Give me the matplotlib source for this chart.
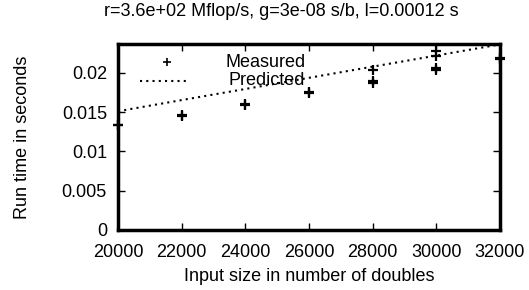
import matplotlib
matplotlib.use("Agg")
import matplotlib.pyplot as plt
from matplotlib.lines import Line2D

plt.rcParams['font.family'] = ['Liberation Sans', 'DejaVu Sans']

# Data
measured_x = [20000, 20000, 22000, 22000, 24000, 24000, 26000, 26000,
              28000, 28000, 28000, 30000, 30000, 30000, 30000, 32000, 32000]
measured_y = [0.0133, 0.0134, 0.0146, 0.0145, 0.0160, 0.0159, 0.0175, 0.0174,
              0.0203, 0.0190, 0.0187, 0.0227, 0.0221, 0.0206, 0.0203, 0.0219, 0.0218]
pred_x = [20000, 22000, 24000, 26000, 28000, 30000, 32000]
pred_y = [0.0151, 0.01652, 0.01793, 0.01935, 0.02077, 0.02218, 0.0236]
xticks = [20000, 22000, 24000, 26000, 28000, 30000, 32000]
yticks = [0, 0.005, 0.01, 0.015, 0.02]
ytick_labels = ['0', '0.005', '0.01', '0.015', '0.02']

fig = plt.figure(figsize=(5.29, 2.90), dpi=100)
ax = fig.add_axes([118/529, 1-230/290, 382/529, 186/290])

ax.plot(measured_x, measured_y, linestyle='none', marker='+', color='black',
        markersize=7, markeredgewidth=1.6, clip_on=False)
ax.plot(pred_x, pred_y, linestyle=(0, (1, 2)), color='black', linewidth=1.5)

ax.set_xlim(20000, 32000)
ax.set_ylim(0, 0.02365)
ax.set_xticks(xticks)
ax.set_xticklabels([str(v) for v in xticks])
ax.set_yticks(yticks)
ax.set_yticklabels(ytick_labels)
ax.tick_params(direction='in', length=5, width=1, top=True, right=True,
               labelsize=13)
ax.tick_params(axis='y', pad=8)
ax.tick_params(axis='x', pad=10)
for s in ax.spines.values():
    s.set_linewidth(2.5)

fig.text(0.5 + 17/529, 1 - 12/290, 'r=3.6e+02 Mflop/s, g=3e-08 s/b, l=0.00012 s',
         ha='center', va='center', fontsize=13)
ax.set_xlabel('Input size in number of doubles', fontsize=13, labelpad=5)
ax.set_ylabel('Run time in seconds', fontsize=13, labelpad=22)

# legend
ax.text(0.49, 0.903, 'Measured', transform=ax.transAxes, ha='right', va='center', fontsize=13)
ax.text(0.49, 0.806, 'Predicted', transform=ax.transAxes, ha='right', va='center', fontsize=13)
ax.add_line(Line2D([0.128], [0.903], transform=ax.transAxes, marker='+', color='black',
                   markersize=6, markeredgewidth=1.2, linestyle='none'))
ax.add_line(Line2D([0.058, 0.188], [0.803, 0.803], transform=ax.transAxes, color='black',
                   linestyle=(0, (1, 2)), linewidth=1.5))

fig.savefig('out.png', dpi=100)
